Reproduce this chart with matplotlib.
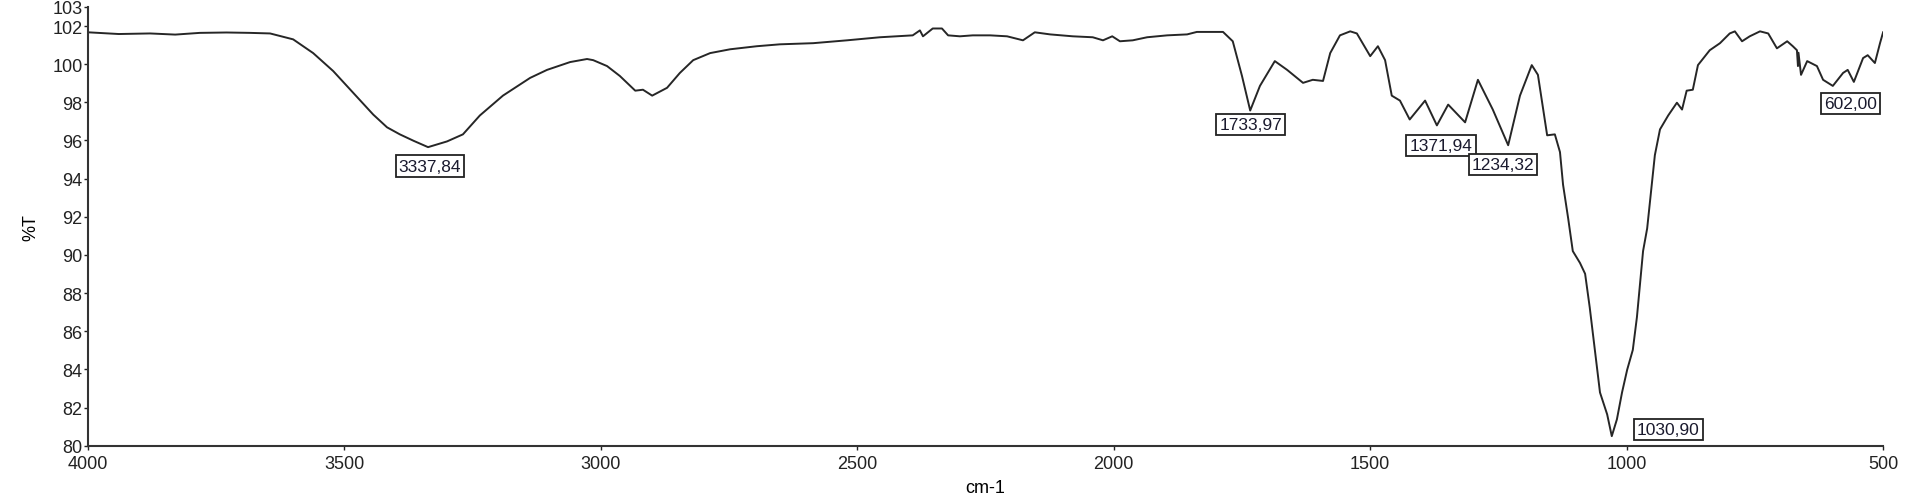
import matplotlib
matplotlib.use("Agg")
import matplotlib.pyplot as plt

plt.rcParams["font.family"] = ["Liberation Sans", "DejaVu Sans"]

# FTIR spectrum (wavenumber cm-1, %T)
wavenumber = [
    4000, 3940, 3879, 3830, 3782, 3730, 3684, 3645, 3600, 3561, 3522, 3483,
    3444, 3417, 3392, 3365, 3337, 3300, 3269, 3236, 3191, 3138, 3105, 3060,
    3027, 3015, 2988, 2963, 2933, 2918, 2900, 2871, 2846, 2820, 2787, 2748,
    2696, 2651, 2586, 2520, 2456, 2392, 2378, 2372, 2353, 2335, 2323, 2300,
    2275, 2241, 2208, 2177, 2154, 2124, 2080, 2041, 2021, 2003, 1988, 1963,
    1935, 1896, 1857, 1838, 1787, 1768, 1750, 1734, 1715, 1686, 1662, 1631,
    1612, 1592, 1578, 1559, 1539, 1526, 1500, 1485, 1471, 1458, 1442, 1423,
    1393, 1370, 1348, 1315, 1290, 1261, 1231, 1208, 1185, 1173, 1155, 1140,
    1130, 1124, 1114, 1105, 1091, 1081, 1072, 1062, 1052, 1038, 1029, 1019,
    1009, 999, 988, 980, 974, 968, 960, 951, 945, 935, 919, 902, 892, 883,
    871, 861, 838, 818, 799, 789, 775, 760, 740, 724, 707, 687, 676, 668,
    666, 665, 660, 648, 629, 617, 598, 578, 569, 557, 539, 530, 516, 506, 500,
]
transmittance = [
    101.67, 101.58, 101.61, 101.55, 101.64, 101.66, 101.64, 101.61, 101.30,
    100.58, 99.64, 98.50, 97.36, 96.69, 96.32, 95.98, 95.65, 95.95, 96.32,
    97.31, 98.35, 99.28, 99.70, 100.11, 100.27, 100.21, 99.90, 99.38, 98.61,
    98.66, 98.35, 98.76, 99.54, 100.21, 100.58, 100.78, 100.94, 101.04,
    101.10, 101.25, 101.41, 101.51, 101.77, 101.46, 101.87, 101.87, 101.51,
    101.46, 101.51, 101.51, 101.46, 101.25, 101.67, 101.56, 101.46, 101.41,
    101.25, 101.46, 101.20, 101.25, 101.41, 101.51, 101.56, 101.69, 101.69,
    101.20, 99.38, 97.57, 98.86, 100.16, 99.70, 99.02, 99.18, 99.12, 100.58,
    101.51, 101.72, 101.61, 100.42, 100.94, 100.21, 98.35, 98.09, 97.10,
    98.09, 96.79, 97.88, 96.95, 99.18, 97.62, 95.75, 98.35, 99.95, 99.44,
    96.27, 96.32, 95.39, 93.68, 91.91, 90.20, 89.58, 89.01, 87.25, 85.02,
    82.79, 81.64, 80.50, 81.38, 82.79, 83.98, 85.02, 86.73, 88.49, 90.20,
    91.39, 93.68, 95.23, 96.58, 97.31, 97.98, 97.62, 98.61, 98.66, 99.95,
    100.73, 101.10, 101.61, 101.72, 101.20, 101.46, 101.72, 101.61, 100.83,
    101.20, 100.94, 100.73, 99.90, 100.60, 99.44, 100.16, 99.90, 99.18,
    98.86, 99.54, 99.70, 99.07, 100.32, 100.47, 100.06, 101.10, 101.67,
]

# peak labels: text, label position (cm-1, %T)
peak_labels = ["3337,84", "1733,97", "1371,94", "1234,32", "1030,90", "602,00"]
label_x = [3333, 1733, 1362, 1241, 919, 563]
label_y = [94.66, 96.84, 95.73, 94.74, 80.84, 97.93]

y_ticks = [80, 82, 84, 86, 88, 90, 92, 94, 96, 98, 100, 102, 103]
x_ticks = [4000, 3500, 3000, 2500, 2000, 1500, 1000, 500]

fig = plt.figure(figsize=(19.05, 5.02), dpi=100)
ax = fig.add_axes([0.0462, 0.1102, 0.9423, 0.874])

ax.plot(wavenumber, transmittance, color="#262626", linewidth=1.4)

for txt, lx, ly in zip(peak_labels, label_x, label_y):
    ax.text(lx, ly, txt, ha="center", va="center", fontsize=12.5,
            color="#1a1a2e",
            bbox=dict(boxstyle="square,pad=0.18", facecolor="white",
                      edgecolor="#222222", linewidth=1.3))

ax.set_xlim(4000, 500)
ax.set_ylim(80, 103)
ax.set_xticks(x_ticks)
ax.set_yticks(y_ticks)
ax.tick_params(labelsize=13, length=3, width=1, colors="#222222")
ax.tick_params(axis="y", pad=1)
ax.tick_params(axis="x", pad=4)

for side in ("top", "right"):
    ax.spines[side].set_visible(False)
for side in ("left", "bottom"):
    ax.spines[side].set_linewidth(1.5)
    ax.spines[side].set_color("#333333")

ax.set_xlabel("cm-1", fontsize=13, labelpad=5)
ax.set_ylabel("%T", fontsize=13, labelpad=9)

fig.savefig("out.png", dpi=100)
